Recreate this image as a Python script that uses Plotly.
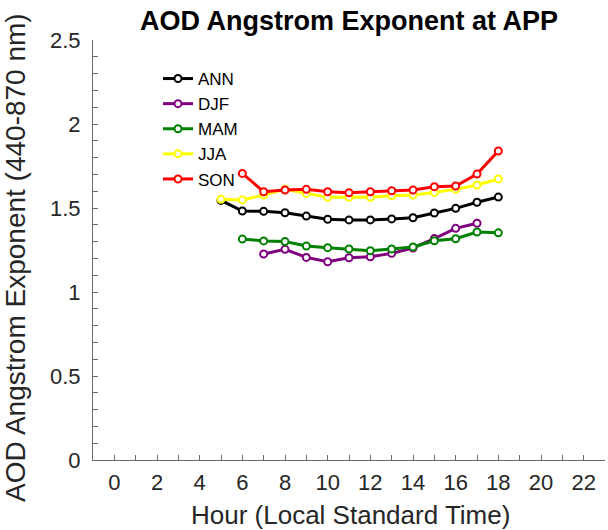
import plotly.graph_objects as go

hours_ann = list(range(5, 19))
ann = [1.545, 1.482, 1.480, 1.472, 1.452, 1.433, 1.429, 1.429, 1.435, 1.442, 1.470, 1.498, 1.534, 1.565]

hours_djf = list(range(7, 18))
djf = [1.226, 1.254, 1.206, 1.180, 1.204, 1.210, 1.230, 1.262, 1.318, 1.379, 1.409]

hours_mam = list(range(6, 19))
mam = [1.315, 1.304, 1.300, 1.274, 1.264, 1.256, 1.246, 1.256, 1.268, 1.305, 1.317, 1.357, 1.352]

hours_jja = list(range(5, 19))
jja = [1.552, 1.548, 1.577, 1.611, 1.587, 1.564, 1.564, 1.564, 1.573, 1.577, 1.593, 1.611, 1.637, 1.673]

hours_son = list(range(6, 19))
son = [1.706, 1.597, 1.607, 1.611, 1.597, 1.591, 1.597, 1.603, 1.607, 1.627, 1.631, 1.702, 1.839]

series = [
    ("ANN", hours_ann, ann, "#000000"),
    ("DJF", hours_djf, djf, "#800080"),
    ("MAM", hours_mam, mam, "#008000"),
    ("JJA", hours_jja, jja, "#FFFF00"),
    ("SON", hours_son, son, "#FF0000"),
]

x_ticks = list(range(0, 23, 2))
y_ticks = [0, 0.5, 1, 1.5, 2, 2.5]
y_labels = ["0", "0.5", "1", "1.5", "2", "2.5"]

fig = go.Figure()
for name, xs, ys, col in series:
    fig.add_trace(go.Scatter(
        x=xs, y=ys, name=name, mode="lines+markers",
        line=dict(color=col, width=3),
        marker=dict(symbol="circle", size=7, color="white", line=dict(color=col, width=2)),
    ))

FONT = "Liberation Sans, Arial, sans-serif"
axis_col = "#6b6b6b"
txt_col = "#262626"

L, R, T, B = 93, 3, 40, 70
PW = 608 - L - R
PH = 530 - T - B

fig.update_layout(
    width=608, height=530,
    margin=dict(l=L, r=R, t=T, b=B, autoexpand=False),
    paper_bgcolor="white", plot_bgcolor="white",
    font=dict(family=FONT, size=22, color=txt_col),
    title=dict(text="<b>AOD Angstrom Exponent at APP</b>", x=0.5, xref="paper",
               y=1 - 21 / 530, yanchor="middle", font=dict(size=27, color="black", family=FONT),
               automargin=False),
    showlegend=True,
    legend=dict(x=(158 - L) / PW, y=1 - (61 - T) / PH, xanchor="left", yanchor="top",
                bgcolor="rgba(0,0,0,0)", font=dict(size=17, color="black"),
                itemwidth=30, tracegroupgap=0),
    annotations=[
        dict(text="Hour (Local Standard Time)", xref="paper", yref="paper",
             x=(350 - L) / PW, y=-(515 - (T + PH)) / PH, xanchor="center", yanchor="middle",
             showarrow=False, font=dict(size=26, color=txt_col)),
        dict(text="AOD Angstrom Exponent (440-870 nm)", xref="paper", yref="paper",
             x=(15 - L) / PW, y=1 - (258 - T) / PH, xanchor="center", yanchor="middle",
             textangle=-90, showarrow=False, font=dict(size=28, color=txt_col)),
    ],
)
fig.update_xaxes(
    range=[-1, 23], tickvals=x_ticks, ticks="inside", ticklen=5, tickcolor=axis_col,
    minor=dict(dtick=1, ticks="inside", ticklen=5, tickcolor=axis_col),
    showline=True, linecolor=axis_col, linewidth=1, showgrid=False, zeroline=False,
    tickfont=dict(size=22, color=txt_col), automargin=False, ticklabelstandoff=3,
)
fig.update_yaxes(
    range=[0, 2.5], tickvals=y_ticks, ticktext=y_labels, ticks="inside", ticklen=5,
    tickcolor=axis_col,
    minor=dict(dtick=0.1, ticks="inside", ticklen=5, tickcolor=axis_col),
    showline=True, linecolor=axis_col, linewidth=1, showgrid=False, zeroline=False,
    tickfont=dict(size=22, color=txt_col), automargin=False, ticklabelstandoff=7,
)

fig.write_html("out.html", config={"displayModeBar": False},
               post_script="document.body.style.margin='0px';document.body.style.overflow='hidden';")
